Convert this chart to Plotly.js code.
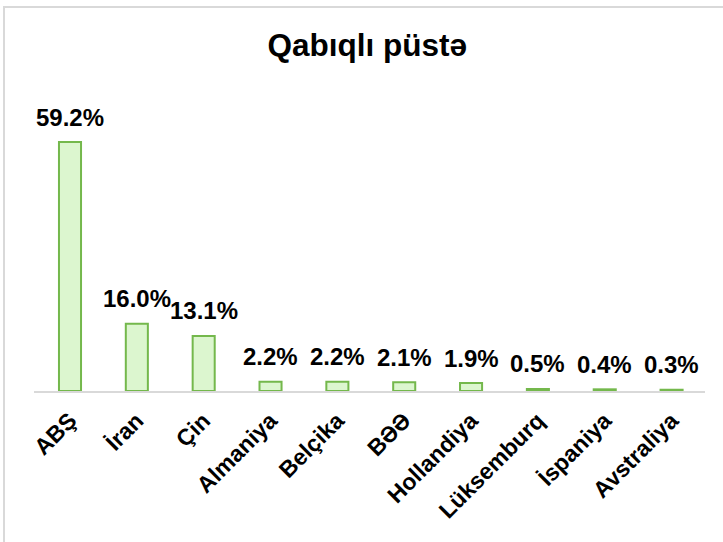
<!DOCTYPE html>
<html>
<head>
<meta charset="utf-8">
<script src="https://cdn.plot.ly/plotly-3.0.1.min.js"></script>
<style>
  body { margin: 0; background: #fff; }
  #chart { position: absolute; left: 0; top: 0; width: 723px; height: 542px; }
  #frame {
    position: absolute; left: 3px; top: 6px; width: 720px; height: 536px;
    border-left: 2px solid #d9d9d9; border-top: 2px solid #d9d9d9;
    pointer-events: none;
  }
</style>
</head>
<body>
<div id="chart"></div>
<div id="frame"></div>
<script>
  const countries = ['ABŞ', 'İran', 'Çin', 'Almaniya', 'Belçika', 'BƏƏ', 'Hollandiya', 'Lüksemburq', 'İspaniya', 'Avstraliya'];
  const shares = [59.2, 16.0, 13.1, 2.2, 2.2, 2.1, 1.9, 0.5, 0.4, 0.3];
  const shareLabels = ['59.2%', '16.0%', '13.1%', '2.2%', '2.2%', '2.1%', '1.9%', '0.5%', '0.4%', '0.3%'];

  const font = 'Liberation Sans, Arial, sans-serif';

  const data = [{
    type: 'bar',
    x: countries,
    y: shares,
    marker: {
      color: '#dcf6cf',
      line: { color: '#74b84c', width: 2 }
    },
    hoverinfo: 'none'
  }];

  const annotations = countries.map((c, i) => ({
    x: c,
    y: shares[i],
    text: shareLabels[i],
    showarrow: false,
    yanchor: 'middle',
    yshift: 25,
    font: { family: font, size: 24, weight: 'bold', color: '#000' }
  }));

  const layout = {
    width: 723,
    height: 542,
    margin: { l: 34, r: 18, t: 100, b: 151 },
    paper_bgcolor: '#fff',
    plot_bgcolor: '#fff',
    showlegend: false,
    bargap: 0.67,
    title: {
      text: 'Qabıqlı püstə',
      x: 0.508,
      xanchor: 'center',
      y: 0.917,
      yanchor: 'middle',
      font: { family: font, size: 31.5, weight: 'bold', color: '#000' }
    },
    xaxis: {
      showline: true,
      linecolor: '#d9d9d9',
      linewidth: 2,
      ticks: '',
      tickangle: -45,
      ticklabelstandoff: 5,
      tickfont: { family: font, size: 23, weight: 'bold', color: '#000' },
      showgrid: false
    },
    yaxis: {
      range: [0, 69.2],
      visible: false,
      showgrid: false,
      zeroline: false
    },
    annotations
  };

  Plotly.newPlot('chart', data, layout, { displayModeBar: false, staticPlot: true });
</script>
</body>
</html>
